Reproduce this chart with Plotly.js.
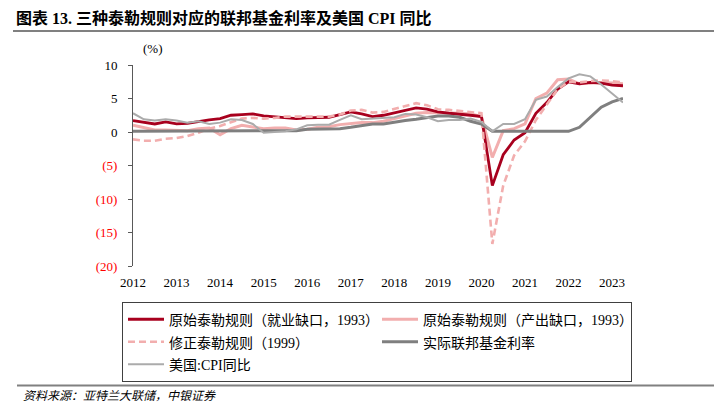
<!DOCTYPE html>
<html><head><meta charset="utf-8">
<script src="https://cdn.plot.ly/plotly-3.0.1.min.js"></script>
<style>html,body{margin:0;padding:0;background:#fff}#chart{width:714px;height:404px}</style>
</head><body><div id="chart"></div>
<script>
// ---- data (quarterly, 2012Q1 - 2023Q2) ----
const quarters = [
 '2012Q1','2012Q2','2012Q3','2012Q4','2013Q1','2013Q2','2013Q3','2013Q4',
 '2014Q1','2014Q2','2014Q3','2014Q4','2015Q1','2015Q2','2015Q3','2015Q4',
 '2016Q1','2016Q2','2016Q3','2016Q4','2017Q1','2017Q2','2017Q3','2017Q4',
 '2018Q1','2018Q2','2018Q3','2018Q4','2019Q1','2019Q2','2019Q3','2019Q4',
 '2020Q1','2020Q2','2020Q3','2020Q4','2021Q1','2021Q2','2021Q3','2021Q4',
 '2022Q1','2022Q2','2022Q3','2022Q4','2023Q1','2023Q2'];
const taylorEmployment = [
 1.7,1.4,1.2,1.5, 1.2,1.3,1.6,1.8, 2.0,2.5,2.6,2.7, 2.4,2.3,2.1,2.0,
 2.1,2.2,2.2,2.6, 3.0,2.7,2.3,2.5, 2.9,3.3,3.6,3.4, 3.0,2.8,2.7,2.5,
 2.3,-8.0,-3.4,-1.2, -0.1,2.8,4.4,6.4, 7.5,7.2,7.4,7.3, 7.0,6.9];
const taylorOutput = [
 1.0,0.6,0.3,0.3, 0.2,0.2,0.5,0.6, -0.4,0.5,1.0,0.7, 0.5,0.6,0.6,0.3,
 0.4,0.7,0.8,1.1, 1.3,1.4,1.4,1.6, 2.0,2.4,2.8,2.9, 2.9,2.8,2.8,2.7,
 2.3,-3.8,0.2,0.5, 1.2,5.0,5.8,7.8, 7.9,7.2,7.3,7.4, 7.3,7.2];
const taylorModified = [
 -1.1,-1.3,-1.3,-1.0, -0.9,-0.6,-0.1,0.5, 0.9,1.5,2.0,2.1, 2.0,2.1,2.3,2.3,
 2.3,2.3,2.3,2.6, 3.2,3.3,2.9,3.0, 3.4,3.8,4.3,4.0, 3.4,3.3,3.1,3.0,
 2.8,-16.7,-8.0,-3.5, -1.4,1.8,4.1,6.4, 7.5,7.4,7.6,7.7, 7.6,7.4];
const fedFunds = [
 0.1,0.1,0.1,0.1, 0.1,0.1,0.1,0.1, 0.1,0.1,0.1,0.1, 0.1,0.1,0.1,0.2,
 0.4,0.4,0.4,0.5, 0.7,1.0,1.2,1.2, 1.5,1.7,1.9,2.2, 2.4,2.4,2.2,1.6,
 1.2,0.1,0.1,0.1, 0.1,0.1,0.1,0.1, 0.1,0.7,2.2,3.7, 4.5,5.0];
const cpiYoY = [
 2.8,1.9,1.7,1.9, 1.7,1.4,1.6,1.2, 1.4,1.9,1.8,1.2, -0.1,0.0,0.1,0.4,
 1.0,1.1,1.1,1.8, 2.5,1.9,2.0,2.1, 2.2,2.7,2.6,2.2, 1.6,1.8,1.8,2.0,
 1.5,0.1,1.2,1.2, 1.9,4.8,5.3,6.7, 8.0,8.6,8.3,7.1, 5.8,4.4];
const seriesNames = [
 '原始泰勒规则（就业缺口，1993）',
 '原始泰勒规则（产出缺口，1993）',
 '修正泰勒规则（1999）',
 '实际联邦基金利率',
 '美国:CPI同比'];
const yearTicks = [2012,2013,2014,2015,2016,2017,2018,2019,2020,2021,2022,2023];
const yTickVals = [-20,-15,-10,-5,0,5,10];
const yTickLabels = ['(20)','(15)','(10)','(5)','0','5','10'];

// ---- build ----
const xs = quarters.map(q => +q.slice(0,4) + (+q.slice(5) - 1) / 4);
const FONT = 'Liberation Serif, "Noto Sans CJK SC", serif';
const yText = yTickLabels.map((t,i) => yTickVals[i] < 0 ? '<span style="color:#FF0000">' + t + '</span>' : t);
const legName = s => '<span style="font-size:14px">' + s + '</span>';

const traces = [
 {x: xs, y: taylorOutput, name: legName(seriesNames[1]), legendrank: 2, mode: 'lines',
  line: {color: '#F2AEAE', width: 3}},
 {x: xs, y: taylorEmployment, name: legName(seriesNames[0]), legendrank: 1, mode: 'lines',
  line: {color: '#A8001E', width: 2.8}},
 {x: xs, y: taylorModified, name: legName(seriesNames[2]), legendrank: 3, mode: 'lines',
  line: {color: '#F2AEAE', width: 2.6, dash: '7px,4px'}},
 {x: xs, y: fedFunds, name: legName(seriesNames[3]), legendrank: 4, mode: 'lines',
  line: {color: '#7F7F7F', width: 3}},
 {x: xs, y: cpiYoY, name: legName(seriesNames[4]), legendrank: 5, mode: 'lines',
  line: {color: '#ABABAB', width: 2}}
];

const L = 133, R = 623, T = 65, B = 266;
const W = R - L, H = B - T;
const px = v => (v - L) / W;
const py = v => (B - v) / H;

const layout = {
 width: 714, height: 404,
 margin: {l: L, r: 714 - R, t: T, b: 404 - B, pad: 0},
 paper_bgcolor: '#fff', plot_bgcolor: '#fff',
 font: {family: FONT, size: 13, color: '#000'},
 showlegend: true,
 xaxis: {range: [2012, 2023.25], tickvals: yearTicks, ticktext: yearTicks.map(String),
  showline: false, ticks: '', showgrid: false, zeroline: false,
  tickfont: {family: FONT, size: 13, color: '#000'}, ticklabelstandoff: 7, fixedrange: true},
 xaxis2: {overlaying: 'x', anchor: 'free', position: 20/30, range: [2012, 2023.25],
  tickvals: yearTicks, showticklabels: false, showline: true, linecolor: '#595959', linewidth: 1,
  ticks: 'outside', ticklen: 5, tickcolor: '#595959', showgrid: false, zeroline: false},
 yaxis: {range: [-20, 10], tickvals: yTickVals, ticktext: yText,
  showline: true, linecolor: '#595959', linewidth: 1, ticks: 'outside', ticklen: 4, tickcolor: '#595959',
  showgrid: false, zeroline: false, ticklabelstandoff: 8,
  tickfont: {family: FONT, size: 13, color: '#000'}},
 legend: {orientation: 'h', x: px(122), xanchor: 'left', y: py(302), yanchor: 'top',
  bordercolor: '#404040', borderwidth: 1, entrywidth: 203, entrywidthmode: 'pixels', itemwidth: 36,
  font: {family: FONT, size: 15, color: '#000'}, traceorder: 'normal', bgcolor: '#fff'},
 annotations: [
  {text: '<b>图表 13. 三种泰勒规则对应的联邦基金利率及美国 CPI 同比</b>', xref: 'paper', yref: 'paper',
   x: px(14), y: py(18), xanchor: 'left', yanchor: 'middle', showarrow: false,
   font: {family: FONT, size: 16, color: '#000'}},
  {text: '(%)', xref: 'paper', yref: 'paper', x: px(153), y: py(49), xanchor: 'center', yanchor: 'middle',
   showarrow: false, font: {family: FONT, size: 13, color: '#000'}},
  {text: '<i>资料来源：亚特兰大联储，中银证券</i>', xref: 'paper', yref: 'paper',
   x: px(21), y: py(396), xanchor: 'left', yanchor: 'middle', showarrow: false,
   font: {family: FONT, size: 12, color: '#000'}}
 ],
 shapes: [
  {type: 'line', xref: 'paper', yref: 'paper', x0: px(13), x1: px(714), y0: py(31), y1: py(31),
   line: {color: '#808080', width: 2}},
  {type: 'line', xref: 'paper', yref: 'paper', x0: px(17), x1: px(714), y0: py(385.5), y1: py(385.5),
   line: {color: '#808080', width: 2}}
 ]
};
Plotly.newPlot('chart', traces, layout, {displayModeBar: false, staticPlot: true});
</script></body></html>
